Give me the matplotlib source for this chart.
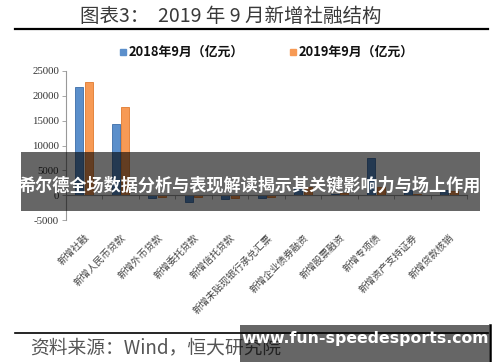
"""
Recreation: 图表3 2019年9月新增社融结构 (grouped bars, overlay banner + watermark).
"""

import matplotlib.pyplot as plt
import numpy as np
from matplotlib.patches import Rectangle
from matplotlib.lines import Line2D

plt.rcParams['font.family'] = ['Noto Sans CJK SC', 'DejaVu Sans']
plt.rcParams['axes.unicode_minus'] = False

# ── Data (亿元) ───────────────────────────────────────────────────────────────
CATEGORIES = [
    "新增社融", "新增人民币贷款", "新增外币贷款", "新增委托贷款", "新增信托贷款",
    "新增未贴现银行承兑汇票", "新增企业债券融资", "新增股票融资", "新增专项债",
    "新增资产支持证券", "新增贷款核销",
]
SEP_2018 = [21700, 14300, -600, -1400, -800, -600, 1400, 300, 7500, 1100, 1100]
SEP_2019 = [22800, 17700, -300, -300, -500, -400, 1600, 400, 1600, 300, 900]
SERIES_NAMES = ["2018年9月（亿元）", "2019年9月（亿元）"]
Y_TICKS = [-5000, 0, 5000, 10000, 15000, 20000, 25000]

BLUE, BLUE_EDGE = "#5B8FCB", "#3C6DA8"
ORANGE, ORANGE_EDGE = "#F79A55", "#E07A2E"
SERIF = ['Liberation Serif', 'DejaVu Serif']


def plot(out_path="out.png"):
    fig = plt.figure(figsize=(5, 3.62), dpi=100)
    fig.patch.set_facecolor("white")
    W, H = 500, 362

    def fx(px):
        return px / W

    def fy(py):
        return 1 - py / H

    ax = fig.add_axes([fx(66), fy(220), fx(467) - fx(66), fy(71) - fy(220)])
    x = np.arange(len(CATEGORIES))
    w = 0.22
    ax.bar(x - 0.13, SEP_2018, w, color=BLUE, edgecolor=BLUE_EDGE, lw=0.6, zorder=2)
    ax.bar(x + 0.13, SEP_2019, w, color=ORANGE, edgecolor=ORANGE_EDGE, lw=0.6, zorder=2)

    ax.set_xlim(-0.5, len(CATEGORIES) - 0.5)
    ax.set_ylim(Y_TICKS[0], Y_TICKS[-1])
    ax.set_yticks(Y_TICKS)
    ax.set_yticklabels([f"{v:d}" for v in Y_TICKS], fontsize=7.8,
                       family=SERIF, color="#333333")
    ax.tick_params(axis="y", length=3, width=0.6, color="#999999", pad=2)

    for s in ("top", "right"):
        ax.spines[s].set_visible(False)
    ax.spines["left"].set_color("#999999")
    ax.spines["left"].set_linewidth(0.8)
    ax.spines["bottom"].set_position(("data", 0))
    ax.spines["bottom"].set_color("#999999")
    ax.spines["bottom"].set_linewidth(0.8)
    ax.set_xticks(np.arange(len(CATEGORIES) + 1) - 0.5)
    ax.set_xticklabels([])
    ax.tick_params(axis="x", length=3, width=0.6, color="#999999", direction="out")

    # Category labels below the plot, rotated
    for xi, lab in zip(x, CATEGORIES):
        ax.annotate(lab, xy=(xi, Y_TICKS[0]), xytext=(0, -9),
                    textcoords="offset points", xycoords="data",
                    rotation=45, ha="right", va="top", rotation_mode="anchor",
                    fontsize=7, color="#444444", annotation_clip=False)

    # ── Title and rules ───────────────────────────────────────────────────────
    fig.text(fx(231), fy(16), "图表3：  2019 年 9 月新增社融结构", ha="center",
             va="center", fontsize=14, color="#3A3A3A")
    fig.add_artist(Line2D([fx(15), fx(488)], [fy(29), fy(29)], color="black", lw=1.6))
    fig.add_artist(Line2D([fx(15), fx(488)], [fy(333), fy(333)], color="black", lw=1.2))

    # Legend
    for px, col, name in [(123, BLUE, SERIES_NAMES[0]), (293, ORANGE, SERIES_NAMES[1])]:
        fig.add_artist(Rectangle((fx(px - 3), fy(55)), fx(6), fy(49) - fy(55),
                                 color=col, transform=fig.transFigure))
        fig.text(fx(px + 6), fy(52), name, ha="left", va="center",
                 fontsize=9.3, fontweight="bold", color="#111111")

    # Footer
    fig.text(fx(30), fy(348), "资料来源：Wind，恒大研究院", ha="left", va="center",
             fontsize=13.5, color="#555555", style="italic")

    # ── Overlay banner ────────────────────────────────────────────────────────
    fig.add_artist(Rectangle((fx(21), fy(211)), fx(480) - fx(21), fy(152) - fy(211),
                             facecolor="black", alpha=0.6, lw=0,
                             transform=fig.transFigure, zorder=10))
    fig.text(fx(250), fy(186), "希尔德全场数据分析与表现解读揭示其关键影响力与场上作用",
             ha="center", va="center", fontsize=12.3, fontweight="bold",
             color="white", zorder=11)

    # Watermark box
    fig.add_artist(Rectangle((fx(240), 0), fx(489) - fx(240), fy(325),
                             facecolor="black", alpha=0.6, lw=0,
                             transform=fig.transFigure, zorder=10))
    fig.add_artist(Line2D([fx(490), fx(490)], [0, fy(325)], color="black", lw=1.8,
                          zorder=11))
    fig.text(fx(365), fy(339), "www.fun-speedesports.com", ha="center", va="center",
             fontsize=11.3, fontweight="bold", color="white", family="DejaVu Sans",
             zorder=11)

    fig.savefig(out_path, dpi=100, facecolor="white")


if __name__ == "__main__":
    plot()
